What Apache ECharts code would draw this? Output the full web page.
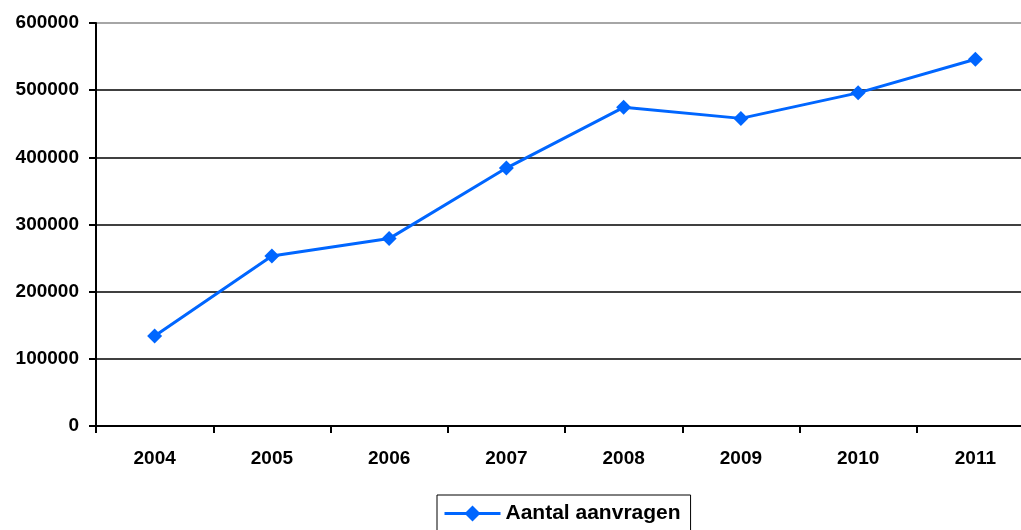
<!DOCTYPE html>
<html>
<head>
<meta charset="utf-8">
<script src="https://cdn.jsdelivr.net/npm/echarts@6/dist/echarts.min.js"></script>
<style>
html,body{margin:0;padding:0;background:#fff;}
#chart{width:1021px;height:530px;}
</style>
</head>
<body>
<div id="chart"></div>
<script>
const years = ['2004','2005','2006','2007','2008','2009','2010','2011'];
const aanvragen = [134000, 253000, 279000, 384000, 474500, 458000, 496000, 546000];
const seriesName = 'Aantal aanvragen';

const chart = echarts.init(document.getElementById('chart'), null, {renderer:'canvas'});
const font = '"Liberation Sans", Arial, sans-serif';
chart.setOption({
  animation: false,
  backgroundColor: '#fff',
  grid: {left: 96, top: 23, width: 938, height: 403, containLabel: false, outerBoundsMode: 'none'},
  legend: {
    data: [seriesName],
    left: 437, top: 495,
    borderColor: '#000', borderWidth: 1,
    padding: [8, 10, 12, 6],
    itemWidth: 56, itemHeight: 20, itemGap: 4,
    lineStyle: {width: 3},
    textStyle: {fontFamily: font, fontWeight: 'bold', fontSize: 21, color: '#000'}
  },
  xAxis: {
    type: 'category', data: years, boundaryGap: true,
    axisLine: {lineStyle: {color: '#000', width: 2}},
    axisTick: {show: true, length: 7, inside: false, lineStyle: {color: '#000', width: 2}},
    axisLabel: {margin: 23, fontFamily: font, fontWeight: 'bold', fontSize: 19, color: '#000'},
    splitLine: {show: false}
  },
  yAxis: {
    type: 'value', min: 0, max: 600000, interval: 100000,
    axisLine: {show: true, lineStyle: {color: '#000', width: 2}},
    axisTick: {show: true, length: 7, lineStyle: {color: '#000', width: 2}},
    axisLabel: {margin: 17, fontFamily: font, fontWeight: 'bold', fontSize: 19, color: '#000',
      formatter: v => String(v)},
    splitLine: {show: true, lineStyle: {color: ['#000','#000','#000','#000','#000','#000','#888'], width: 1.5}}
  },
  series: [{
    name: seriesName, type: 'line', data: aanvragen,
    symbol: 'diamond', symbolSize: 15,
    lineStyle: {color: '#0066FF', width: 3},
    itemStyle: {color: '#0066FF'}
  }]
});
</script>
</body>
</html>
